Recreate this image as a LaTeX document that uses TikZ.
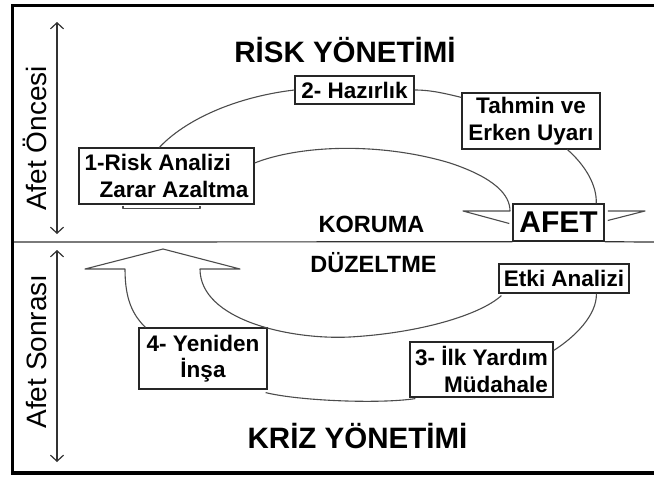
\documentclass[tikz,border=0pt]{standalone}
\usepackage{fontspec}
\setmainfont{Liberation Sans}
\usetikzlibrary{arrows.meta,calc}
\begin{document}
\begin{tikzpicture}[x=1pt,y=-1pt,
  box/.style={draw=black!85, line width=1.2pt, font=\bfseries\fontsize{22.5}{26.5}\selectfont, inner sep=0pt, align=center},
  curve/.style={draw=black!70, line width=1.1pt, line join=round},
  head/.style={font=\bfseries\fontsize{29.5}{31}\selectfont, anchor=base},
  mid/.style={font=\bfseries\fontsize{23.5}{25}\selectfont, anchor=base},
  side/.style={font=\fontsize{28}{30}\selectfont, rotate=90, anchor=base},
  span/.style={draw=black!80, line width=1.2pt, {Straight Barb[length=6pt,width=13pt]}-{Straight Barb[length=6pt,width=13pt]}}]
\useasboundingbox (0,0) rectangle (654,479);
% frame
\draw[line width=3.8pt, line join=miter] (654,5.5) -- (12.5,5.5) -- (12.5,473) -- (654,473);
% boxes
\node[box, minimum width=119pt, minimum height=28pt] (hazir) at (354.5,90) {2- Hazırlık};
\node[box, minimum width=138pt, minimum height=56pt] (tahmin) at (531,121) {Tahmin ve\\Erken Uyarı};
\node[box, align=left, minimum width=175pt, minimum height=56pt] (risk) at (166.5,176) {1-Risk Analizi\\\hspace*{15pt}Zarar Azaltma};
\node[box, line width=1.5pt, font=\bfseries\fontsize{30}{32}\selectfont, minimum width=91pt, minimum height=37pt] (afet) at (558.5,222.5) {AFET};
\node[box, minimum width=130pt, minimum height=29pt] (etki) at (564,278.5) {Etki Analizi};
\node[box, align=right, minimum width=143pt, minimum height=55pt] (ilk) at (481.5,369.5) {3- İlk Yardım\\Müdahale};
\node[box, minimum width=128pt, minimum height=61pt] (yeni) at (203,358.5) {4- Yeniden\\İnşa};
% titles
\node[head] (risky) at (345,62) {RİSK YÖNETİMİ};
\node[head] (krizy) at (357.5,448) {KRİZ YÖNETİMİ};
\node[mid] (koruma) at (371.5,232) {KORUMA};
\node[mid] (duz) at (373.5,272) {DÜZELTME};
\node[side] (once) at (46,138.5) {Afet Öncesi};
\node[side] (sonra) at (46,351.5) {Afet Sonrası};
% side arrows
\coordinate (a1) at (57,22); \coordinate (a2) at (57,234);
\coordinate (b1) at (57,250); \coordinate (b2) at (57,462);
\draw[span] (a1) -- (a2);
\draw[span] (b1) -- (b2);
% divider
\coordinate (dl) at (14,242); \coordinate (dr) at (654,242);
\draw[draw=black!80, line width=1.2pt] (dl) -- (afet.south west);
\draw[draw=black!80, line width=1.2pt] (afet.south east) -- (dr);
% upper cycle
\coordinate (lt) at (463,211);
\coordinate (rt) at (645,211);
\draw[curve] ($(risk.north west)+(81,0)$) .. controls (185,120) and (235,97) .. (hazir.west);
\draw[curve] (hazir.east) .. controls (432,90) and (447,94) .. ($(tahmin.north west)+(0,5)$);
\draw[curve] ($(tahmin.south west)+(106,0)$) .. controls (585,165) and (597,185) .. ($(afet.north west)+(84,0)$);
\draw[curve] ($(risk.east)+(0,-13)$) .. controls (300,145) and (380,142) .. (450,163) .. controls (495,178) and (510,195) .. (510,211) -- (lt) -- ($(afet.west)+(-3,1)$);
\draw[curve] ($(afet.east)+(3,-11.5)$) -- (rt) -- ($(afet.east)+(3,-2)$);
\draw[curve] ($(risk.south)+(-43.5,1)$) -- ++(0,3) -- ++(77,0) -- ++(0,-3);
% lower cycle
\coordinate (hl) at (85,269);
\coordinate (ht) at (163,249);
\coordinate (hr) at (240,269);
\draw[curve] ($(yeni.north west)+(7,0)$) .. controls (133,315) and (125,300) .. (125,269) -- (hl) -- (ht) -- (hr) -- (200,269) .. controls (200,320) and (290,340) .. (350,337) .. controls (420,333) and (480,315) .. ($(etki.south west)+(3,2)$);
\draw[curve] ($(yeni.south east)+(-2,3)$) .. controls (300,401) and (380,404) .. ($(ilk.south west)+(6,1)$);
\draw[curve] ($(ilk.east)+(0,-19)$) .. controls (575,337) and (597,315) .. ($(etki.south west)+(98,0)$);
\end{tikzpicture}
\end{document}
